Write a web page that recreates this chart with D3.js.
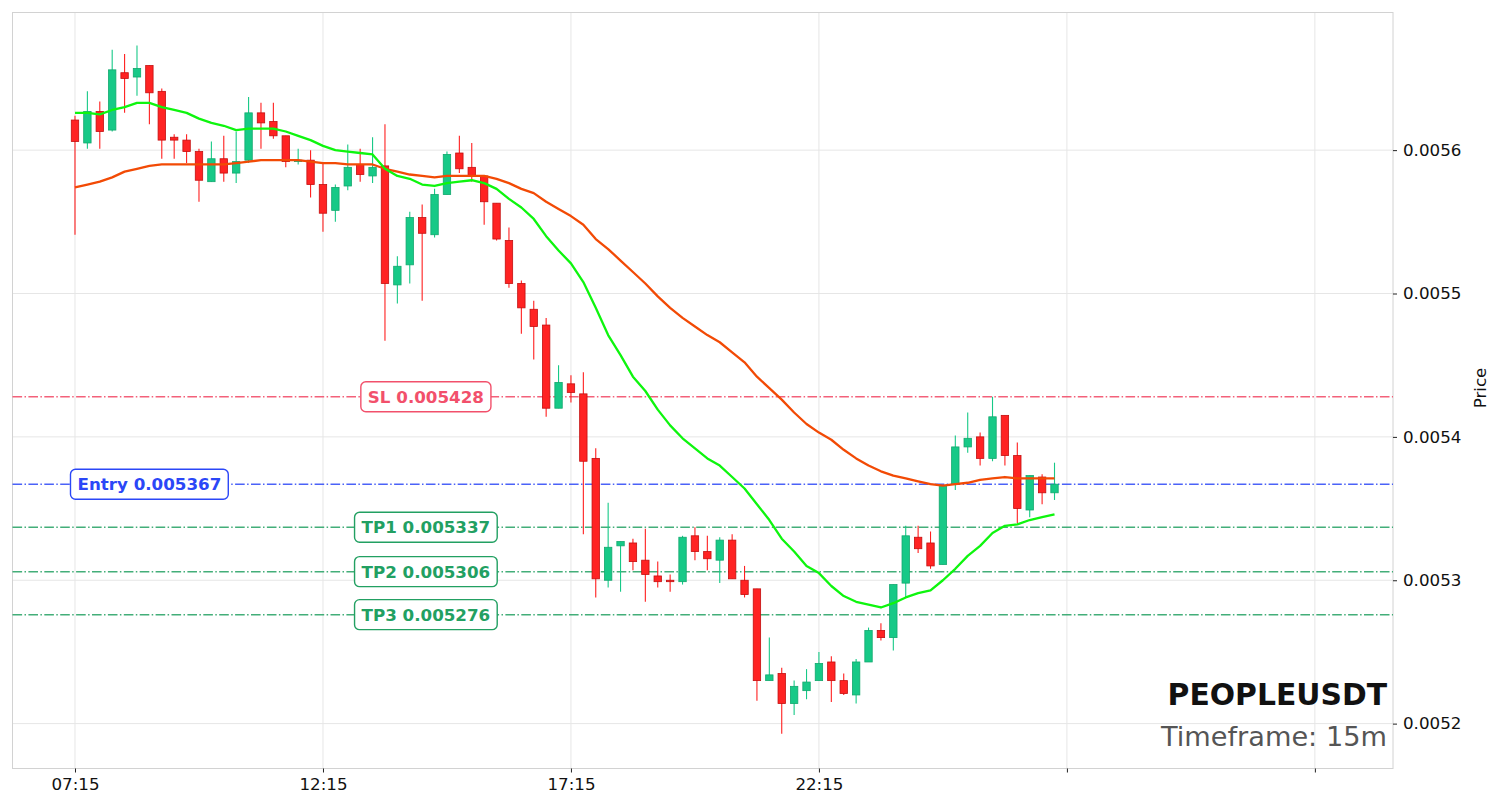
<!DOCTYPE html>
<html lang="en">
<head>
<meta charset="utf-8">
<title>PEOPLEUSDT 15m</title>
<script src="https://cdn.jsdelivr.net/npm/d3@7"></script>
<style>
  body { margin: 0; background: #fff; }
  svg { font-family: "DejaVu Sans", sans-serif; }
  .grid line { stroke: #e6e6e6; stroke-width: 1px; }
  .frame { fill: none; stroke: #d2d2d2; stroke-width: 1px; }
  .axis text { font-family: "DejaVu Sans", sans-serif; font-size: 16.7px; fill: #111; }
  .axis line { stroke: #222; }
  .axis path { display: none; }
  .ema { fill: none; stroke-width: 2.3px; stroke-linejoin: round; }
</style>
</head>
<body>
<svg width="1501" height="808"></svg>
<script>
// 15m candles from 07:15
var opens = [
  0.005621, 0.005605, 0.005627, 0.005614, 0.005654, 0.005651, 0.005659, 0.005641, 0.005609, 0.005607,
  0.005599, 0.005578, 0.005594, 0.005584, 0.005593, 0.005626, 0.005620, 0.005610, 0.005592, 0.005593,
  0.005576, 0.005558, 0.005575, 0.005590, 0.005582, 0.005589, 0.005506, 0.005520, 0.005553, 0.005541,
  0.005569, 0.005598, 0.005588, 0.005582, 0.005563, 0.005537, 0.005507, 0.005489, 0.005478, 0.005420,
  0.005437, 0.005430, 0.005385, 0.005300, 0.005324, 0.005326, 0.005314, 0.005303, 0.005300, 0.005299,
  0.005331, 0.005320, 0.005314, 0.005328, 0.005300, 0.005294, 0.005230, 0.005235, 0.005214, 0.005223,
  0.005230, 0.005243, 0.005230, 0.005220, 0.005243, 0.005265, 0.005260, 0.005298, 0.005330, 0.005326,
  0.005311, 0.005367, 0.005393, 0.005400, 0.005385, 0.005415, 0.005387, 0.005349, 0.005372, 0.005361
];
var highs = [
  0.005624, 0.005641, 0.005634, 0.005670, 0.005667, 0.005673, 0.005659, 0.005643, 0.005611, 0.005611,
  0.005601, 0.005606, 0.005610, 0.005613, 0.005637, 0.005633, 0.005633, 0.005610, 0.005601, 0.005600,
  0.005591, 0.005576, 0.005604, 0.005601, 0.005609, 0.005618, 0.005526, 0.005557, 0.005562, 0.005573,
  0.005599, 0.005610, 0.005605, 0.005582, 0.005563, 0.005546, 0.005509, 0.005495, 0.005483, 0.005450,
  0.005443, 0.005445, 0.005392, 0.005354, 0.005327, 0.005329, 0.005336, 0.005313, 0.005304, 0.005331,
  0.005337, 0.005331, 0.005330, 0.005332, 0.005310, 0.005294, 0.005260, 0.005239, 0.005230, 0.005238,
  0.005250, 0.005247, 0.005235, 0.005245, 0.005267, 0.005270, 0.005297, 0.005338, 0.005338, 0.005334,
  0.005366, 0.005401, 0.005417, 0.005403, 0.005428, 0.005415, 0.005396, 0.005373, 0.005374, 0.005382
];
var lows = [
  0.005541, 0.005601, 0.005601, 0.005613, 0.005626, 0.005638, 0.005618, 0.005594, 0.005594, 0.005591,
  0.005564, 0.005578, 0.005578, 0.005577, 0.005591, 0.005601, 0.005608, 0.005588, 0.005590, 0.005567,
  0.005543, 0.005550, 0.005572, 0.005578, 0.005577, 0.005467, 0.005493, 0.005507, 0.005495, 0.005539,
  0.005569, 0.005584, 0.005578, 0.005548, 0.005537, 0.005504, 0.005472, 0.005454, 0.005414, 0.005420,
  0.005424, 0.005332, 0.005288, 0.005295, 0.005292, 0.005307, 0.005285, 0.005295, 0.005292, 0.005297,
  0.005314, 0.005307, 0.005298, 0.005301, 0.005288, 0.005216, 0.005230, 0.005193, 0.005206, 0.005217,
  0.005230, 0.005215, 0.005220, 0.005214, 0.005243, 0.005258, 0.005251, 0.005288, 0.005319, 0.005308,
  0.005311, 0.005363, 0.005389, 0.005380, 0.005383, 0.005380, 0.005340, 0.005344, 0.005353, 0.005356
];
var closes = [
  0.005606, 0.005627, 0.005613, 0.005656, 0.005650, 0.005657, 0.005640, 0.005607, 0.005607, 0.005599,
  0.005579, 0.005594, 0.005584, 0.005592, 0.005626, 0.005619, 0.005610, 0.005592, 0.005593, 0.005576,
  0.005556, 0.005574, 0.005588, 0.005583, 0.005588, 0.005507, 0.005519, 0.005553, 0.005542, 0.005569,
  0.005597, 0.005587, 0.005582, 0.005564, 0.005538, 0.005507, 0.005490, 0.005477, 0.005420, 0.005438,
  0.005431, 0.005383, 0.005301, 0.005323, 0.005327, 0.005313, 0.005304, 0.005299, 0.005299, 0.005330,
  0.005320, 0.005315, 0.005328, 0.005301, 0.005290, 0.005230, 0.005234, 0.005214, 0.005226, 0.005229,
  0.005242, 0.005230, 0.005221, 0.005243, 0.005265, 0.005260, 0.005297, 0.005331, 0.005322, 0.005310,
  0.005366, 0.005393, 0.005399, 0.005385, 0.005414, 0.005387, 0.005350, 0.005373, 0.005361, 0.005367
];
var emaFast = [
  0.005626, 0.005626, 0.005625, 0.005628, 0.005630, 0.005633, 0.005633, 0.005630, 0.005628, 0.005626,
  0.005622, 0.005619, 0.005617, 0.005614, 0.005615, 0.005615, 0.005615, 0.005613, 0.005610, 0.005607,
  0.005603, 0.005600, 0.005599, 0.005598, 0.005597, 0.005587, 0.005582, 0.005580, 0.005576, 0.005575,
  0.005577, 0.005578, 0.005579, 0.005577, 0.005573, 0.005566, 0.005560, 0.005552, 0.005540, 0.005530,
  0.005521, 0.005508, 0.005490, 0.005471, 0.005457, 0.005442, 0.005432, 0.005419, 0.005408, 0.005399,
  0.005392, 0.005385, 0.005380, 0.005372, 0.005364, 0.005353, 0.005342, 0.005329, 0.005320, 0.005310,
  0.005305, 0.005296, 0.005289, 0.005285, 0.005283, 0.005281, 0.005284, 0.005288, 0.005291, 0.005293,
  0.005300, 0.005308, 0.005317, 0.005324, 0.005333, 0.005338, 0.005339, 0.005342, 0.005344, 0.005346
];
var emaSlow = [
  0.005574, 0.005576, 0.005578, 0.005581, 0.005585, 0.005587, 0.005589, 0.005590, 0.005590, 0.005590,
  0.005590, 0.005590, 0.005590, 0.005591, 0.005592, 0.005593, 0.005593, 0.005593, 0.005593, 0.005592,
  0.005591, 0.005591, 0.005590, 0.005590, 0.005590, 0.005587, 0.005585, 0.005583, 0.005582, 0.005581,
  0.005582, 0.005582, 0.005582, 0.005582, 0.005580, 0.005577, 0.005573, 0.005570, 0.005564, 0.005559,
  0.005554, 0.005548, 0.005538, 0.005531, 0.005523, 0.005515, 0.005507, 0.005498, 0.005490, 0.005483,
  0.005477, 0.005471, 0.005466, 0.005459, 0.005452, 0.005442, 0.005434, 0.005426, 0.005417, 0.005409,
  0.005403, 0.005398, 0.005391, 0.005385, 0.005380, 0.005376, 0.005373, 0.005371, 0.005369, 0.005367,
  0.005366, 0.005367, 0.005368, 0.005370, 0.005371, 0.005372, 0.005371, 0.005371, 0.005371, 0.005371
];

var levelNames  = ["SL", "Entry", "TP1", "TP2", "TP3"];
var levelPrices = [0.005428, 0.005367, 0.005337, 0.005306, 0.005276];
var levelColors = ["#f2506b", "#2b47f7", "#22a062", "#22a062", "#22a062"];
var levelLabelAt = [28.3, 6, 28.3, 28.3, 28.3];   // candle index where each tag sits

var yTicks = [0.0052, 0.0053, 0.0054, 0.0055, 0.0056];
var xTickIdx = [0, 20, 40, 60, 80, 100];
var xTickLabels = ["07:15", "12:15", "17:15", "22:15", "", ""];

var symbol = "PEOPLEUSDT";
var timeframe = "Timeframe: 15m";

var svg = d3.select("svg");
var pLeft = 12.5, pRight = 1393, pTop = 12.5, pBottom = 768.5;

var x = d3.scaleLinear().domain([-5.04, 106.3]).range([pLeft, pRight]);
var y = d3.scaleLinear().domain([0.0051687, 0.005696]).range([pBottom, pTop]);

// grid
var grid = svg.append("g").attr("class", "grid");
grid.selectAll(".gy").data(yTicks).enter().append("line")
    .attr("x1", pLeft).attr("x2", pRight)
    .attr("y1", d => y(d)).attr("y2", d => y(d));
grid.selectAll(".gx").data(xTickIdx).enter().append("line")
    .attr("y1", pTop).attr("y2", pBottom)
    .attr("x1", d => x(d)).attr("x2", d => x(d));

svg.append("rect").attr("class", "frame")
    .attr("x", pLeft).attr("y", pTop)
    .attr("width", pRight - pLeft).attr("height", pBottom - pTop);

// axes
svg.append("g").attr("class", "axis")
    .attr("transform", "translate(" + pRight + ",0)")
    .call(d3.axisRight(y).tickValues(yTicks).tickSize(4).tickPadding(6)
        .tickFormat(d3.format(".4f")));

svg.append("g").attr("class", "axis")
    .attr("transform", "translate(0," + pBottom + ")")
    .call(d3.axisBottom(x).tickValues(xTickIdx).tickSize(4).tickPadding(6)
        .tickFormat((d, i) => xTickLabels[i]));

svg.append("text")
    .attr("transform", "translate(1486,388) rotate(-90)")
    .attr("text-anchor", "middle")
    .style("font-size", "16.7px").style("fill", "#111")
    .text("Price");

// level lines
var dash = "9.6,2.4,1.5,2.4";
svg.append("g").selectAll("line").data(levelPrices).enter().append("line")
    .attr("x1", pLeft).attr("x2", pRight)
    .attr("y1", d => y(d)).attr("y2", d => y(d))
    .attr("stroke", (d, i) => levelColors[i])
    .attr("stroke-opacity", (d, i) => i == 0 ? 0.9 : 0.85)
    .attr("stroke-width", 1.5)
    .attr("stroke-dasharray", dash);

// candles
var idx = d3.range(opens.length);
var bw = 7.4;
var candles = svg.append("g");
candles.selectAll(".wick").data(idx).enter().append("line")
    .attr("x1", i => x(i)).attr("x2", i => x(i))
    .attr("y1", i => y(highs[i])).attr("y2", i => y(lows[i]))
    .attr("stroke", i => closes[i] >= opens[i] ? "#17c987" : "#ff1f1f")
    .attr("stroke-width", 1.1);
candles.selectAll(".body").data(idx).enter().append("rect")
    .attr("x", i => x(i) - bw / 2)
    .attr("width", bw)
    .attr("y", i => y(Math.max(opens[i], closes[i])))
    .attr("height", i => Math.max(1, Math.abs(y(opens[i]) - y(closes[i]))))
    .attr("fill", i => closes[i] >= opens[i] ? "#17c987" : "#ff2323")
    .attr("stroke", i => closes[i] >= opens[i] ? "#12a86e" : "#c40f0f")
    .attr("stroke-width", 0.8);

// moving averages
var line = d3.line().x((d, i) => x(i)).y(d => y(d));
svg.append("path").datum(emaSlow).attr("class", "ema")
    .attr("stroke", "#f24a05").attr("d", line);
svg.append("path").datum(emaFast).attr("class", "ema")
    .attr("stroke", "#0ef50e").attr("d", line);

// level tags
var tags = svg.append("g").selectAll("g").data(levelPrices).enter().append("g")
    .attr("transform", (d, i) => "translate(" + x(levelLabelAt[i]) + "," + y(d) + ")");
tags.append("text")
    .attr("text-anchor", "middle")
    .attr("dy", "0.36em")
    .style("font-size", "16.7px").style("font-weight", "bold")
    .style("fill", (d, i) => levelColors[i])
    .text((d, i) => levelNames[i] + " " + d3.format(".6f")(d));
tags.each(function(d, i) {
    var g = d3.select(this);
    var bb = g.select("text").node().getBBox();
    g.insert("rect", "text")
        .attr("x", bb.x - 7).attr("y", -15)
        .attr("width", bb.width + 14).attr("height", 30)
        .attr("rx", 5).attr("ry", 5)
        .attr("fill", "#fff")
        .attr("stroke", levelColors[i]).attr("stroke-width", 1.4);
});

// symbol and timeframe
svg.append("text").attr("x", 1387).attr("y", 705)
    .attr("text-anchor", "end")
    .style("font-size", "29.8px").style("font-weight", "bold").style("fill", "#111")
    .text(symbol);
svg.append("text").attr("x", 1387).attr("y", 746)
    .attr("text-anchor", "end")
    .style("font-size", "27.2px").style("fill", "#555")
    .text(timeframe);
</script>
</body>
</html>
